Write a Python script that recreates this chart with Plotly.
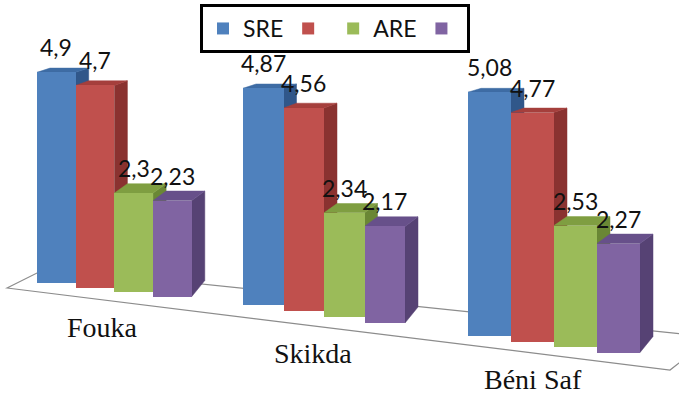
import plotly.graph_objects as go

# ---- data ----
categories = ["Fouka", "Skikda", "Béni Saf"]
series_names = ["SRE", "", "ARE", ""]
sre = [4.9, 4.87, 5.08]
series2 = [4.7, 4.56, 4.77]
are = [2.3, 2.34, 2.53]
series4 = [2.23, 2.17, 2.27]
values = [sre, series2, are, series4]

# ---- styles ----
front_colors = ["#4F81BD", "#C0504D", "#9BBB59", "#8064A2"]
top_colors = ["#3E6CA4", "#A53F3C", "#7F9E41", "#67508A"]
side_colors = ["#30578A", "#8A3230", "#6A8735", "#564274"]

W, H = 679, 398
# perspective of each group (pixels): left edge, bar width, px per unit, zero line, floor slant per bar
geom = [
    dict(left=37, bw=38.7, k=43.0, y0=283, slant=4.5),
    dict(left=243, bw=40.5, k=44.5, y0=305, slant=6.0),
    dict(left=468, bw=43.0, k=48.0, y0=336, slant=5.5),
]
DEPTH_X = 13.0
label_pos = [(102, 327), (313, 353), (533, 379)]

fig = go.Figure()
shapes = []
annotations = []

# floor outline (paper coordinates)
floor = [(7, 288), (47, 268), (712, 337), (670, 370)]
path = "M " + " L ".join(f"{x / W},{1 - y / H}" for x, y in floor) + " Z"
shapes.append(dict(type="path", xref="paper", yref="paper", path=path,
                   line=dict(color="#8C8C8C", width=1.2), fillcolor="rgba(0,0,0,0)",
                   layer="below"))

layout_axes = {}
for g, gm in enumerate(geom):
    sfx = "" if g == 0 else str(g + 1)
    xa, ya = "x" + sfx, "y" + sfx
    k, bw = gm["k"], gm["bw"]
    dxu = DEPTH_X / bw
    xr_max = 3.5 + dxu + 0.1
    width_px = (xr_max + 0.5) * bw
    layout_axes["xaxis" + sfx] = dict(domain=[gm["left"] / W, (gm["left"] + width_px) / W],
                                      range=[-0.5, xr_max], type="linear", visible=False,
                                      anchor=ya, fixedrange=True)
    ymax = gm["y0"] / k
    ymin = ymax - H / k
    layout_axes["yaxis" + sfx] = dict(domain=[0, 1], range=[ymin, ymax], visible=False,
                                      anchor=xa, fixedrange=True)
    for s in range(4):
        v = values[s][g]
        base_u = -gm["slant"] * s / k
        top_u = v + base_u
        dyt = (14 - 2 * v) / k
        dyb = 16 / k
        xl, xr = s - 0.5, s + 0.5
        fig.add_trace(go.Bar(
            x=[s], y=[v], base=[base_u], width=1,
            marker=dict(color=front_colors[s], line=dict(width=0)),
            name=series_names[s], legendgroup=str(s), showlegend=(g == 0),
            xaxis=xa, yaxis=ya, hoverinfo="skip"))
        side = (f"M {xr},{base_u} L {xr + dxu},{base_u + dyb} L {xr + dxu},{top_u + dyt} "
                f"L {xr},{top_u} Z")
        topf = (f"M {xl},{top_u} L {xl + dxu},{top_u + dyt} L {xr + dxu},{top_u + dyt} "
                f"L {xr},{top_u} Z")
        shapes.append(dict(type="path", xref=xa, yref=ya, path=side, layer="below",
                           fillcolor=side_colors[s], line=dict(color=side_colors[s], width=0.5)))
        shapes.append(dict(type="path", xref=xa, yref=ya, path=topf, layer="below",
                           fillcolor=top_colors[s], line=dict(color=top_colors[s], width=0.5)))
        annotations.append(dict(xref=xa, yref=ya, x=s, y=top_u, yanchor="bottom",
                                xanchor="center", yshift=9, showarrow=False,
                                text=f"{v:g}".replace(".", ","),
                                font=dict(family="Lato", size=23, color="#111111")))
    lx, ly = label_pos[g]
    annotations.append(dict(xref="paper", yref="paper", x=lx / W, y=1 - ly / H,
                            xanchor="center", yanchor="middle", showarrow=False,
                            text=categories[g],
                            font=dict(family="Liberation Serif", size=28, color="#111111")))

fig.update_layout(
    width=W, height=H,
    margin=dict(l=0, r=0, t=0, b=0),
    paper_bgcolor="white", plot_bgcolor="rgba(0,0,0,0)",
    barmode="overlay", bargap=0,
    shapes=shapes, annotations=annotations,
    showlegend=True,
    legend=dict(orientation="h", x=335 / W, xanchor="center", y=1 - 4 / H, yanchor="top",
                bordercolor="black", borderwidth=3, bgcolor="white",
                font=dict(family="Lato", size=23, color="#111111"),
                traceorder="normal", itemclick=False),
    **layout_axes,
)

fig.write_html("out.html")
